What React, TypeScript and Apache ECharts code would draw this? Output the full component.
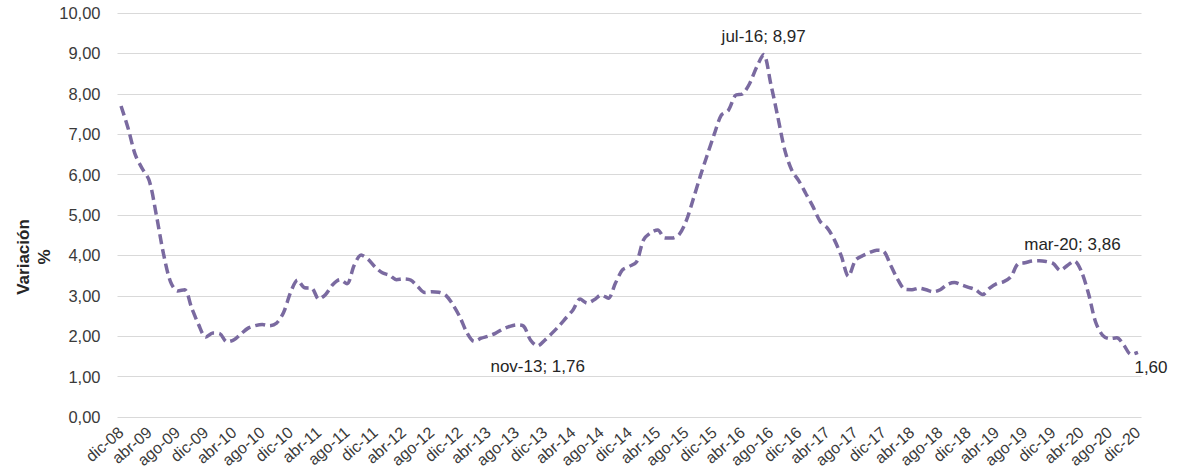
import React, { useEffect, useRef } from "react";
import * as echarts from "echarts";

// Monthly series, dic-08 … dic-20
const MONTHS = ["ene", "feb", "mar", "abr", "may", "jun", "jul", "ago", "sep", "oct", "nov", "dic"];
const FIRST_YEAR = 8;
const LAST_YEAR = 20;

const categories: string[] = ["dic-08"];
for (let y = FIRST_YEAR + 1; y <= LAST_YEAR; y++) {
  for (const m of MONTHS) categories.push(`${m}-${String(y).padStart(2, "0")}`);
}

const values: number[] = [
  7.70, 7.15, 6.50, 6.15, 5.85, 5.00, 4.05, 3.35, 3.12, 3.15, 2.70, 2.28,
  1.98, 2.08, 2.06, 1.86, 1.91, 2.06, 2.20, 2.26, 2.29, 2.26, 2.32, 2.58,
  3.08, 3.39, 3.20, 3.19, 2.92, 3.04, 3.28, 3.40, 3.30, 3.75, 4.01, 3.90,
  3.71, 3.57, 3.51, 3.40, 3.42, 3.39, 3.23, 3.08, 3.10, 3.09, 3.01, 2.78,
  2.47, 2.08, 1.87, 1.95, 2.00, 2.07, 2.17, 2.24, 2.28, 2.25, 1.90, 1.76,
  1.90, 2.07, 2.25, 2.45, 2.65, 2.92, 2.82, 2.90, 3.02, 2.94, 3.31, 3.64,
  3.73, 3.84, 4.39, 4.56, 4.63, 4.43, 4.43, 4.51, 4.84, 5.38, 5.95, 6.48,
  7.00, 7.47, 7.59, 7.96, 8.00, 8.25, 8.66, 8.97, 8.25, 7.43, 6.60, 6.10,
  5.84, 5.52, 5.20, 4.84, 4.68, 4.39, 3.98, 3.48, 3.88, 3.99, 4.07, 4.13,
  4.10, 3.75, 3.40, 3.16, 3.15, 3.19, 3.15, 3.10, 3.15, 3.28, 3.33, 3.27,
  3.21, 3.15, 3.03, 3.19, 3.30, 3.35, 3.47, 3.79, 3.82, 3.86, 3.87, 3.85,
  3.80, 3.63, 3.75, 3.86, 3.60, 3.05, 2.35, 2.02, 1.94, 1.96, 1.78, 1.55,
  1.60,
];

const annotatedMonths = ["nov-13", "jul-16", "mar-20", "dic-20"];
const valueOnlyLabels = ["dic-20"];

const fmt = (v: number) => v.toFixed(2).replace(".", ",");
const FONT = "Liberation Sans, Arial, sans-serif";

export default function App() {
  const ref = useRef<HTMLDivElement>(null);

  useEffect(() => {
    document.body.style.margin = "0";
    if (!ref.current) return;
    const chart = echarts.init(ref.current, undefined, { renderer: "svg" });

    const labelStyle: Record<string, any> = {
      "nov-13": { position: "bottom", distance: 12 },
      "jul-16": { position: "top", distance: 9 },
      "mar-20": { position: "top", distance: 8, offset: [-2, 0] },
      "dic-20": { position: "bottom", distance: 6, offset: [13, 0] },
    };

    const data = values.map((v, i) => {
      const cat = categories[i];
      if (!annotatedMonths.includes(cat)) return v;
      const text = valueOnlyLabels.includes(cat) ? fmt(v) : `${cat}; ${fmt(v)}`;
      return {
        value: v,
        label: {
          show: true,
          formatter: text,
          fontSize: 17,
          color: "#262626",
          fontFamily: FONT,
          ...labelStyle[cat],
        },
      };
    });

    chart.setOption({
      animation: false,
      backgroundColor: "#ffffff",
      grid: { left: 117.5, right: 44.5, top: 13, bottom: 59, containLabel: false },
      xAxis: {
        type: "category",
        data: categories,
        boundaryGap: true,
        axisLine: { show: false },
        axisTick: { show: false },
        axisLabel: {
          interval: 3,
          rotate: 41,
          fontSize: 16,
          color: "#3a3a3a",
          margin: 13,
          fontFamily: FONT,
        },
      },
      yAxis: {
        type: "value",
        min: 0,
        max: 10,
        interval: 1,
        axisLine: { show: false },
        axisTick: { show: false },
        splitLine: { lineStyle: { color: "#d9d9d9", width: 1 } },
        axisLabel: {
          formatter: (v: number) => fmt(v),
          fontSize: 16.5,
          color: "#3a3a3a",
          margin: 17,
          fontFamily: FONT,
        },
      },
      graphic: [
        {
          type: "text",
          x: 34,
          y: 257,
          rotation: Math.PI / 2,
          style: {
            text: "Variación\n%",
            fontSize: 17,
            fontWeight: "bold",
            fill: "#262626",
            align: "center",
            verticalAlign: "middle",
            lineHeight: 21,
            fontFamily: FONT,
          },
        },
      ],
      series: [
        {
          type: "line",
          data,
          smooth: 0.3,
          symbol: "circle",
          symbolSize: 1,
          showSymbol: true,
          showAllSymbol: true,
          itemStyle: { color: "rgba(0,0,0,0)" },
          lineStyle: { color: "#7a6aa0", width: 3.5, type: [10, 5] },
          label: { show: false },
        },
      ],
    });

    return () => chart.dispose();
  }, []);

  return <div ref={ref} style={{ width: 1186, height: 476 }} />;
}
